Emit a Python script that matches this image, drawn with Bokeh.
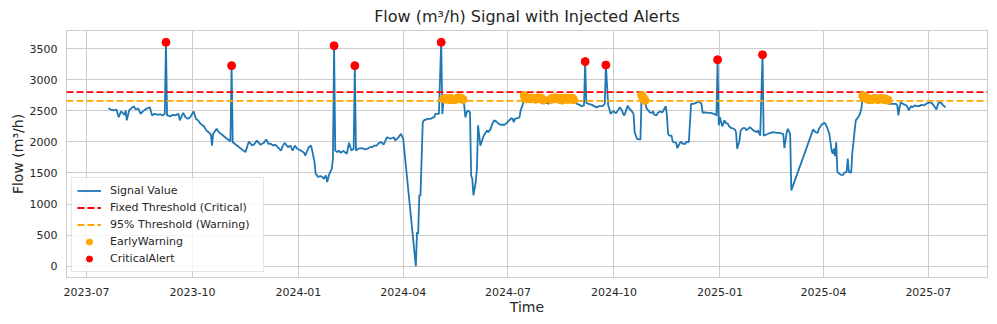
import pandas as pd
from bokeh.plotting import figure
from bokeh.models import (Range1d, FixedTicker, DatetimeTickFormatter, Legend,
                          LegendItem, ColumnDataSource)
from bokeh.embed import file_html
from bokeh.resources import INLINE

FONT = "DejaVu Sans"
TXT = "#262626"

critical_threshold = 2800
warning_ratio = 0.95

y_ticks = [0, 500, 1000, 1500, 2000, 2500, 3000, 3500]
x_tick_dates = ["2023-07-01", "2023-10-01", "2024-01-01", "2024-04-01", "2024-07-01",
                "2024-10-01", "2025-01-01", "2025-04-01", "2025-07-01"]


def daily(start, vals):
    d0 = pd.Timestamp(start)
    return [((d0 + pd.Timedelta(days=i)).strftime("%Y-%m-%d"), v) for i, v in enumerate(vals)]


seg_2023 = [
    ("2023-07-20", 2540), ("2023-07-22", 2520), ("2023-07-25", 2505), ("2023-07-27", 2520),
    ("2023-07-29", 2395), ("2023-07-31", 2490), ("2023-08-03", 2435), ("2023-08-04", 2505),
    ("2023-08-05", 2345), ("2023-08-07", 2505), ("2023-08-09", 2540), ("2023-08-11", 2570),
    ("2023-08-13", 2520), ("2023-08-15", 2540), ("2023-08-17", 2450), ("2023-08-19", 2490),
    ("2023-08-21", 2520), ("2023-08-23", 2540), ("2023-08-25", 2555), ("2023-08-27", 2425),
    ("2023-08-29", 2450), ("2023-09-01", 2435), ("2023-09-03", 2445), ("2023-09-05", 2425),
    ("2023-09-07", 2450), ("2023-09-08", 3600), ("2023-09-09", 2425), ("2023-09-12", 2410),
    ("2023-09-14", 2435), ("2023-09-16", 2425), ("2023-09-19", 2450), ("2023-09-20", 2345),
    ("2023-09-23", 2465), ("2023-09-25", 2395), ("2023-09-27", 2370), ("2023-09-29", 2395),
    ("2023-10-02", 2490), ("2023-10-04", 2370), ("2023-10-06", 2345), ("2023-10-08", 2290),
    ("2023-10-11", 2250), ("2023-10-13", 2185), ("2023-10-15", 2155), ("2023-10-17", 2115),
    ("2023-10-18", 1940), ("2023-10-19", 2130), ("2023-10-22", 2210), ("2023-10-24", 2155),
    ("2023-11-03", 2005), ("2023-11-04", 3225), ("2023-11-05", 1995), ("2023-11-16", 1835),
    ("2023-11-19", 2005), ("2023-11-22", 1940), ("2023-11-24", 1970), ("2023-11-26", 2020),
    ("2023-11-29", 1955), ("2023-12-02", 1985), ("2023-12-04", 2040), ("2023-12-06", 1970),
    ("2023-12-08", 1970), ("2023-12-10", 1940), ("2023-12-12", 1955), ("2023-12-14", 1915),
    ("2023-12-17", 1860), ("2023-12-18", 1915), ("2023-12-20", 1985), ("2023-12-23", 1915),
    ("2023-12-25", 1940), ("2023-12-27", 1860), ("2023-12-29", 1940), ("2023-12-31", 1890),
]

seg_2024a = [
    ("2024-01-03", 1860), ("2024-01-06", 1825), ("2024-01-07", 1780), ("2024-01-08", 1825),
    ("2024-01-10", 1915), ("2024-01-12", 1940), ("2024-01-13", 1860), ("2024-01-15", 1675),
    ("2024-01-16", 1490), ("2024-01-18", 1435), ("2024-01-20", 1450), ("2024-01-22", 1435),
    ("2024-01-23", 1405), ("2024-01-25", 1460), ("2024-01-26", 1355), ("2024-01-28", 1490),
    ("2024-01-30", 1570), ("2024-01-31", 1730), ("2024-02-01", 3545), ("2024-02-02", 1860),
    ("2024-02-04", 1835), ("2024-02-05", 1860), ("2024-02-07", 1825), ("2024-02-09", 1855),
    ("2024-02-12", 1810), ("2024-02-14", 1985), ("2024-02-16", 1860), ("2024-02-18", 1890),
    ("2024-02-19", 3225), ("2024-02-20", 1860), ("2024-02-22", 1890), ("2024-02-25", 1900),
    ("2024-02-28", 1880), ("2024-03-01", 1890), ("2024-03-03", 1915), ("2024-03-05", 1915),
    ("2024-03-07", 1940), ("2024-03-09", 1940), ("2024-03-11", 1985), ("2024-03-13", 1995),
    ("2024-03-15", 1955), ("2024-03-18", 2075), ("2024-03-21", 2050), ("2024-03-24", 2075),
    ("2024-03-25", 2020), ("2024-03-28", 2075), ("2024-03-30", 2130), ("2024-04-01", 2050),
    ("2024-04-12", 0), ("2024-04-13", 550), ("2024-04-14", 525), ("2024-04-15", 1140),
    ("2024-04-16", 1140), ("2024-04-18", 2315), ("2024-04-19", 2345), ("2024-04-22", 2370),
    ("2024-04-25", 2370), ("2024-04-27", 2395), ("2024-04-28", 2395), ("2024-04-29", 2450),
    ("2024-05-02", 2450), ("2024-05-04", 3600), ("2024-05-05", 2450),
]
run_2024_05 = [2690, 2700, 2685, 2695, 2690, 2680, 2700, 2690, 2675, 2650,
               2680, 2690, 2700, 2710, 2695, 2705, 2690, 2680]

seg_2024b = [
    ("2024-05-24", 2585), ("2024-05-25", 2395), ("2024-05-26", 2465), ("2024-05-27", 2505),
    ("2024-05-29", 2475), ("2024-05-30", 1460), ("2024-05-31", 1405), ("2024-06-01", 1140),
    ("2024-06-03", 1355), ("2024-06-04", 1570), ("2024-06-05", 2265), ("2024-06-06", 2100),
    ("2024-06-07", 1940), ("2024-06-09", 2050), ("2024-06-10", 2100), ("2024-06-11", 2130),
    ("2024-06-13", 2185), ("2024-06-14", 2155), ("2024-06-16", 2210), ("2024-06-17", 2275),
    ("2024-06-19", 2345), ("2024-06-21", 2325), ("2024-06-23", 2290), ("2024-06-25", 2275),
    ("2024-06-28", 2275), ("2024-06-30", 2305), ("2024-07-02", 2345), ("2024-07-04", 2380),
    ("2024-07-05", 2370), ("2024-07-06", 2315), ("2024-07-07", 2370), ("2024-07-09", 2380),
    ("2024-07-11", 2395), ("2024-07-12", 2505), ("2024-07-14", 2610),
]
run_2024_07 = [2740, 2700, 2690, 2710, 2695, 2700, 2690, 2705, 2700, 2690, 2685, 2700,
               2710, 2695, 2690, 2700, 2680, 2670,
               2640, 2620, 2630, 2610, 2640,
               2680, 2700, 2690, 2695, 2710, 2700, 2690, 2685, 2700, 2695, 2670, 2690,
               2700, 2705, 2690, 2680, 2700, 2695, 2690, 2700, 2675]

seg_2024c = [
    ("2024-08-30", 2610), ("2024-09-01", 2595), ("2024-09-03", 2575), ("2024-09-05", 2585),
    ("2024-09-06", 3290), ("2024-09-07", 2625), ("2024-09-09", 2610), ("2024-09-12", 2595),
    ("2024-09-14", 2575), ("2024-09-16", 2555), ("2024-09-18", 2575), ("2024-09-21", 2575),
    ("2024-09-23", 2610), ("2024-09-24", 3235), ("2024-09-26", 2585), ("2024-09-27", 2530),
    ("2024-09-28", 2450), ("2024-09-30", 2490), ("2024-10-01", 2490), ("2024-10-02", 2465),
    ("2024-10-03", 2465), ("2024-10-05", 2520), ("2024-10-06", 2555), ("2024-10-08", 2505),
    ("2024-10-09", 2450), ("2024-10-10", 2425), ("2024-10-12", 2530), ("2024-10-13", 2585),
    ("2024-10-14", 2540), ("2024-10-16", 2505), ("2024-10-18", 2450), ("2024-10-19", 2155),
    ("2024-10-20", 2100), ("2024-10-21", 2050), ("2024-10-23", 2040), ("2024-10-24", 2040),
    ("2024-10-25", 2750), ("2024-10-26", 2720), ("2024-10-27", 2690), ("2024-10-28", 2665),
    ("2024-10-29", 2555), ("2024-10-30", 2520), ("2024-10-31", 2505), ("2024-11-01", 2475),
    ("2024-11-03", 2465), ("2024-11-04", 2490), ("2024-11-05", 2435), ("2024-11-07", 2425),
    ("2024-11-08", 2465), ("2024-11-10", 2490), ("2024-11-12", 2475), ("2024-11-13", 2505),
    ("2024-11-14", 2540), ("2024-11-15", 2575), ("2024-11-16", 2425), ("2024-11-17", 2130),
    ("2024-11-18", 2100), ("2024-11-20", 2100), ("2024-11-21", 2005), ("2024-11-22", 1995),
    ("2024-11-24", 1985), ("2024-11-25", 1900), ("2024-11-27", 1970), ("2024-11-28", 2005),
    ("2024-11-30", 1970), ("2024-12-02", 1970), ("2024-12-03", 2005), ("2024-12-05", 1995),
    ("2024-12-07", 2610), ("2024-12-09", 2610), ("2024-12-12", 2635), ("2024-12-14", 2650),
    ("2024-12-16", 2610), ("2024-12-17", 2465), ("2024-12-19", 2475), ("2024-12-22", 2465),
    ("2024-12-24", 2465), ("2024-12-27", 2450), ("2024-12-29", 2425), ("2024-12-30", 3320),
    ("2024-12-31", 2265),
]

seg_2025a = [
    ("2025-01-01", 2395), ("2025-01-03", 2250), ("2025-01-05", 2345), ("2025-01-06", 2305),
    ("2025-01-08", 2290), ("2025-01-09", 2250), ("2025-01-11", 2220), ("2025-01-12", 2220),
    ("2025-01-14", 2200), ("2025-01-15", 2155), ("2025-01-16", 1890), ("2025-01-18", 2020),
    ("2025-01-19", 2185), ("2025-01-21", 2220), ("2025-01-23", 2220), ("2025-01-24", 2185),
    ("2025-01-25", 2200), ("2025-01-27", 2235), ("2025-01-28", 2220), ("2025-01-30", 2185),
    ("2025-02-02", 2155), ("2025-02-03", 2185), ("2025-02-04", 2145), ("2025-02-05", 2100),
    ("2025-02-07", 3400), ("2025-02-08", 2100), ("2025-02-10", 2115), ("2025-02-12", 2130),
    ("2025-02-14", 2145), ("2025-02-16", 2155), ("2025-02-19", 2145), ("2025-02-22", 2145),
    ("2025-02-24", 2130), ("2025-02-25", 2130), ("2025-02-26", 1900), ("2025-02-28", 2155),
    ("2025-03-01", 2210), ("2025-03-03", 2130), ("2025-03-04", 1220), ("2025-03-23", 2200),
    ("2025-03-25", 2155), ("2025-03-27", 2145), ("2025-03-28", 2210), ("2025-03-31", 2290),
    ("2025-04-02", 2305), ("2025-04-03", 2275), ("2025-04-04", 2235), ("2025-04-06", 2130),
    ("2025-04-07", 1995), ("2025-04-08", 1860), ("2025-04-09", 1810), ("2025-04-10", 1890),
    ("2025-04-11", 1770), ("2025-04-12", 1995), ("2025-04-13", 1515), ("2025-04-15", 1485),
    ("2025-04-16", 1470), ("2025-04-18", 1470), ("2025-04-19", 1505), ("2025-04-21", 1515),
    ("2025-04-22", 1730), ("2025-04-23", 1515), ("2025-04-25", 1505), ("2025-04-26", 1835),
    ("2025-04-27", 1995), ("2025-04-28", 2185), ("2025-04-29", 2345), ("2025-04-30", 2370),
    ("2025-05-02", 2425), ("2025-05-03", 2475), ("2025-05-04", 2555),
]
run_2025_05 = [2740, 2720, 2730, 2700, 2690, 2680, 2690, 2685, 2680, 2690, 2695, 2700,
               2690, 2680, 2685, 2690, 2700, 2695, 2680, 2690, 2685, 2675, 2670]

seg_2025b = [
    ("2025-05-28", 2610), ("2025-05-31", 2610), ("2025-06-03", 2610), ("2025-06-04", 2585),
    ("2025-06-05", 2425), ("2025-06-06", 2555), ("2025-06-07", 2635), ("2025-06-09", 2610),
    ("2025-06-12", 2585), ("2025-06-13", 2555), ("2025-06-14", 2505), ("2025-06-16", 2575),
    ("2025-06-17", 2555), ("2025-06-19", 2585), ("2025-06-21", 2575), ("2025-06-23", 2575),
    ("2025-06-25", 2595), ("2025-06-27", 2585), ("2025-06-29", 2610), ("2025-07-02", 2635),
    ("2025-07-04", 2625), ("2025-07-06", 2575), ("2025-07-08", 2520), ("2025-07-09", 2585),
    ("2025-07-10", 2635), ("2025-07-12", 2625), ("2025-07-14", 2585), ("2025-07-16", 2555),
]

records = (seg_2023 + seg_2024a + daily("2024-05-06", run_2024_05) + seg_2024b
           + daily("2024-07-15", run_2024_07) + seg_2024c + seg_2025a
           + daily("2025-05-05", run_2025_05) + seg_2025b)

df = pd.DataFrame(records, columns=["time", "flow"])
df["time"] = pd.to_datetime(df["time"])
df = df.drop_duplicates("time").sort_values("time").reset_index(drop=True)

warning_threshold = warning_ratio * critical_threshold
crit = df[df["flow"] > critical_threshold]
warn = df[(df["flow"] > warning_threshold) & (df["flow"] <= critical_threshold)]

t0 = df["time"].min().value / 1e6
t1 = df["time"].max().value / 1e6
xpad = 0.05 * (t1 - t0)
xlo, xhi = t0 - xpad, t1 + xpad
ylo_d, yhi_d = df["flow"].min(), df["flow"].max()
ypad = 0.05 * (yhi_d - ylo_d)

p = figure(width=997, height=324, x_axis_type="datetime", output_backend="svg",
           toolbar_location=None, x_range=Range1d(xlo, xhi),
           y_range=Range1d(ylo_d - ypad, yhi_d + ypad + 10),
           min_border_left=66, min_border_right=10, min_border_top=30, min_border_bottom=47,
           title="Flow (m³/h) Signal with Injected Alerts")

p.title.align = "center"
p.title.text_font = FONT
p.title.text_font_size = "16px"
p.title.text_font_style = "normal"
p.title.text_color = TXT
p.title.offset = 0
p.title.standoff = 9

p.background_fill_color = "white"
p.border_fill_color = "white"
p.outline_line_color = "#cccccc"
p.outline_line_width = 1

for ax in (p.xaxis, p.yaxis):
    ax.axis_line_color = None
    ax.major_tick_line_color = None
    ax.minor_tick_line_color = None
    ax.major_tick_out = 0
    ax.major_tick_in = 0
    ax.minor_tick_out = 0
    ax.minor_tick_in = 0
    ax.major_label_text_font = FONT
    ax.major_label_text_font_size = "11px"
    ax.major_label_text_color = TXT
    ax.axis_label_text_font = FONT
    ax.axis_label_text_font_size = "14px"
    ax.axis_label_text_font_style = "normal"
    ax.axis_label_text_color = TXT

p.xaxis.axis_label = "Time"
p.yaxis.axis_label = "Flow (m³/h)"
p.xaxis.major_label_standoff = 10
p.xaxis.axis_label_standoff = 0
p.yaxis.major_label_standoff = 9
p.yaxis.axis_label_standoff = 1

x_ticks = [pd.Timestamp(t).value / 1e6 for t in x_tick_dates]
p.xaxis.ticker = FixedTicker(ticks=x_ticks)
p.xgrid.ticker = FixedTicker(ticks=x_ticks)
fmt = "%Y-%m"
p.xaxis.formatter = DatetimeTickFormatter(days=fmt, months=fmt, years=fmt, hours=fmt,
                                          minutes=fmt, seconds=fmt, milliseconds=fmt,
                                          microseconds=fmt, hourmin=fmt, minsec=fmt)
p.yaxis.ticker = FixedTicker(ticks=y_ticks)
p.ygrid.ticker = FixedTicker(ticks=y_ticks)

for g in (p.xgrid, p.ygrid):
    g.grid_line_color = "#cccccc"
    g.grid_line_width = 1

src = ColumnDataSource(df)
r_sig = p.line("time", "flow", source=src, color="#1f77b4", line_width=1.8)
r_crit_line = p.line([xlo, xhi], [critical_threshold, critical_threshold],
                     color="red", line_width=1.8, line_dash="7 3")
r_warn_line = p.line([xlo, xhi], [warning_threshold, warning_threshold],
                     color="orange", line_width=1.8, line_dash="7 3")
r_warn = p.scatter("time", "flow", source=ColumnDataSource(warn), size=8,
                   color="orange", marker="circle")
r_crit = p.scatter("time", "flow", source=ColumnDataSource(crit), size=8,
                   color="red", marker="circle")

legend = Legend(items=[
    LegendItem(label="Signal Value", renderers=[r_sig]),
    LegendItem(label="Fixed Threshold (Critical)", renderers=[r_crit_line]),
    LegendItem(label="95% Threshold (Warning)", renderers=[r_warn_line]),
    LegendItem(label="EarlyWarning", renderers=[r_warn]),
    LegendItem(label="CriticalAlert", renderers=[r_crit]),
], location="bottom_left")
legend.label_text_font = FONT
legend.label_text_font_size = "11px"
legend.label_text_color = TXT
legend.glyph_width = 24
legend.glyph_height = 15
legend.label_height = 15
legend.label_width = 148
legend.spacing = 2
legend.padding = 5
legend.margin = 5
legend.label_standoff = 9
legend.border_line_color = "#cccccc"
legend.background_fill_alpha = 0.8
p.add_layout(legend)

open("out.html", "w").write(file_html(p, INLINE))
